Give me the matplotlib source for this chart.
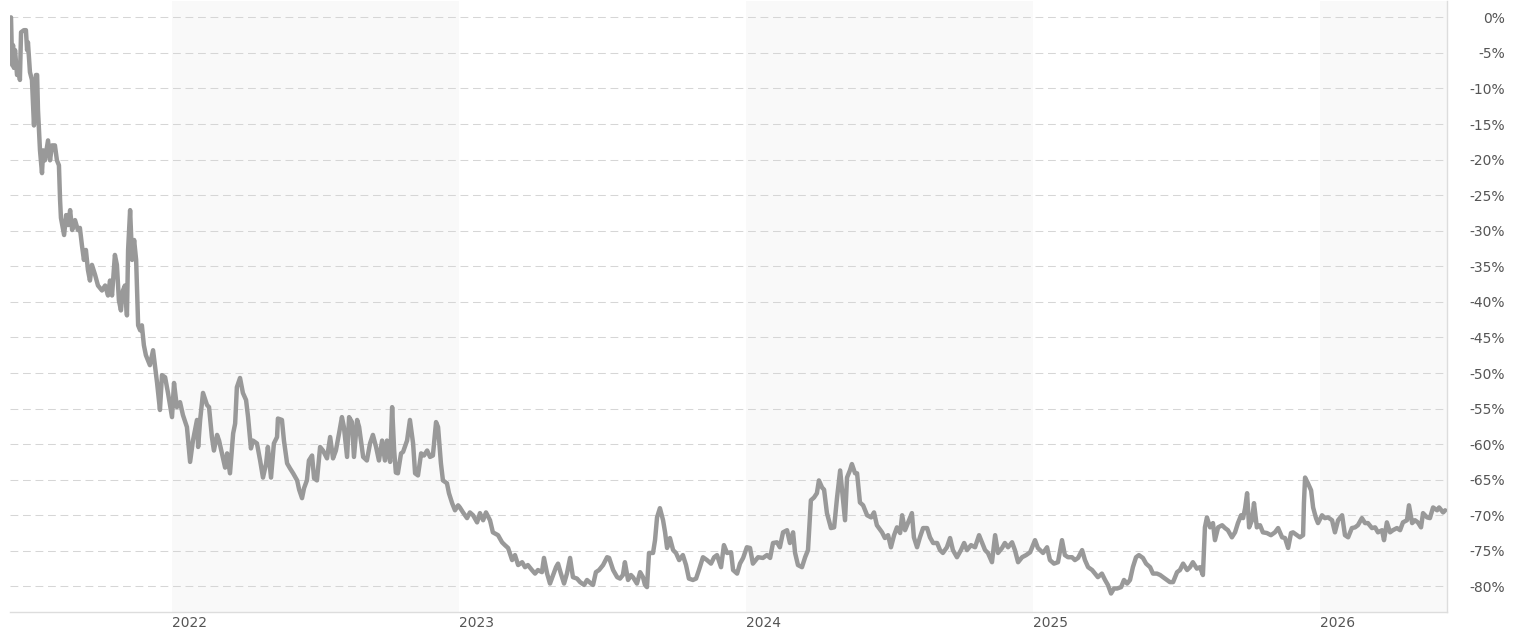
import matplotlib
matplotlib.use('Agg')
import matplotlib.pyplot as plt
from matplotlib.ticker import FuncFormatter

# decimal year of each traced point
YEAR = [
    2021.439, 2021.443, 2021.446, 2021.449, 2021.453, 2021.460, 2021.467, 2021.470,
    2021.474, 2021.484, 2021.491, 2021.495, 2021.498, 2021.505, 2021.512, 2021.519,
    2021.523, 2021.526, 2021.530, 2021.533, 2021.540, 2021.547, 2021.551, 2021.557,
    2021.568, 2021.575, 2021.582, 2021.592, 2021.599, 2021.606, 2021.610, 2021.613,
    2021.624, 2021.631, 2021.638, 2021.645, 2021.652, 2021.662, 2021.672, 2021.679,
    2021.686, 2021.693, 2021.700, 2021.707, 2021.714, 2021.721, 2021.732, 2021.742,
    2021.756, 2021.767, 2021.777, 2021.784, 2021.791, 2021.801, 2021.808, 2021.815,
    2021.822, 2021.829, 2021.836, 2021.843, 2021.847, 2021.854, 2021.861, 2021.868,
    2021.875, 2021.882, 2021.889, 2021.895, 2021.902, 2021.909, 2021.923, 2021.934,
    2021.948, 2021.958, 2021.965, 2021.976, 2021.986, 2022.000, 2022.007, 2022.017,
    2022.028, 2022.038, 2022.052, 2022.063, 2022.073, 2022.087, 2022.091, 2022.098,
    2022.108, 2022.122, 2022.129, 2022.139, 2022.146, 2022.157, 2022.164, 2022.174,
    2022.185, 2022.192, 2022.202, 2022.213, 2022.220, 2022.226, 2022.237, 2022.247,
    2022.258, 2022.265, 2022.275, 2022.282, 2022.296, 2022.307, 2022.317, 2022.328,
    2022.334, 2022.345, 2022.355, 2022.366, 2022.369, 2022.383, 2022.390, 2022.401,
    2022.411, 2022.422, 2022.436, 2022.443, 2022.453, 2022.460, 2022.470, 2022.477,
    2022.488, 2022.495, 2022.505, 2022.516, 2022.526, 2022.540, 2022.551, 2022.561,
    2022.571, 2022.582, 2022.592, 2022.599, 2022.610, 2022.617, 2022.627, 2022.634,
    2022.645, 2022.652, 2022.666, 2022.679, 2022.690, 2022.700, 2022.711, 2022.721,
    2022.732, 2022.742, 2022.749, 2022.760, 2022.767, 2022.774, 2022.780, 2022.787,
    2022.798, 2022.805, 2022.819, 2022.829, 2022.840, 2022.847, 2022.857, 2022.868,
    2022.878, 2022.889, 2022.899, 2022.909, 2022.920, 2022.927, 2022.937, 2022.944,
    2022.958, 2022.965, 2022.976, 2022.986, 2022.997, 2023.003, 2023.014, 2023.028,
    2023.038, 2023.049, 2023.063, 2023.073, 2023.084, 2023.094, 2023.108, 2023.118,
    2023.136, 2023.150, 2023.160, 2023.171, 2023.185, 2023.195, 2023.206, 2023.220,
    2023.230, 2023.240, 2023.254, 2023.265, 2023.275, 2023.289, 2023.296, 2023.307,
    2023.317, 2023.328, 2023.338, 2023.345, 2023.355, 2023.366, 2023.376, 2023.387,
    2023.397, 2023.411, 2023.422, 2023.436, 2023.446, 2023.460, 2023.467, 2023.477,
    2023.488, 2023.502, 2023.516, 2023.523, 2023.537, 2023.551, 2023.561, 2023.571,
    2023.578, 2023.589, 2023.599, 2023.606, 2023.620, 2023.631, 2023.641, 2023.648,
    2023.655, 2023.662, 2023.676, 2023.683, 2023.690, 2023.700, 2023.711, 2023.718,
    2023.725, 2023.735, 2023.746, 2023.756, 2023.767, 2023.780, 2023.791, 2023.801,
    2023.815, 2023.826, 2023.836, 2023.850, 2023.864, 2023.878, 2023.889, 2023.899,
    2023.913, 2023.923, 2023.934, 2023.948, 2023.955, 2023.969, 2023.979, 2023.990,
    2024.003, 2024.014, 2024.024, 2024.042, 2024.059, 2024.073, 2024.084, 2024.094,
    2024.108, 2024.118, 2024.129, 2024.143, 2024.153, 2024.164, 2024.171, 2024.181,
    2024.195, 2024.206, 2024.216, 2024.226, 2024.237, 2024.247, 2024.254, 2024.265,
    2024.272, 2024.282, 2024.296, 2024.307, 2024.317, 2024.328, 2024.338, 2024.345,
    2024.352, 2024.362, 2024.369, 2024.380, 2024.387, 2024.397, 2024.408, 2024.422,
    2024.436, 2024.446, 2024.456, 2024.474, 2024.484, 2024.495, 2024.505, 2024.516,
    2024.526, 2024.537, 2024.544, 2024.554, 2024.564, 2024.578, 2024.585, 2024.596,
    2024.606, 2024.617, 2024.631, 2024.641, 2024.652, 2024.666, 2024.676, 2024.686,
    2024.700, 2024.711, 2024.721, 2024.735, 2024.749, 2024.760, 2024.770, 2024.784,
    2024.798, 2024.812, 2024.822, 2024.833, 2024.843, 2024.857, 2024.868, 2024.878,
    2024.892, 2024.902, 2024.913, 2024.927, 2024.937, 2024.948, 2024.962, 2024.976,
    2024.990, 2025.007, 2025.017, 2025.035, 2025.049, 2025.059, 2025.073, 2025.087,
    2025.101, 2025.111, 2025.122, 2025.136, 2025.146, 2025.157, 2025.171, 2025.181,
    2025.192, 2025.206, 2025.216, 2025.226, 2025.240, 2025.251, 2025.261, 2025.272,
    2025.282, 2025.293, 2025.307, 2025.317, 2025.328, 2025.338, 2025.348, 2025.359,
    2025.369, 2025.383, 2025.394, 2025.408, 2025.418, 2025.432, 2025.443, 2025.453,
    2025.467, 2025.477, 2025.488, 2025.502, 2025.512, 2025.523, 2025.537, 2025.547,
    2025.557, 2025.571, 2025.582, 2025.592, 2025.599, 2025.606, 2025.617, 2025.627,
    2025.634, 2025.645, 2025.659, 2025.669, 2025.679, 2025.693, 2025.704, 2025.714,
    2025.725, 2025.732, 2025.739, 2025.746, 2025.753, 2025.763, 2025.770, 2025.780,
    2025.791, 2025.801, 2025.815, 2025.829, 2025.843, 2025.854, 2025.868, 2025.878,
    2025.889, 2025.899, 2025.906, 2025.920, 2025.930, 2025.941, 2025.944, 2025.948,
    2025.958, 2025.969, 2025.976, 2025.986, 2025.993, 2026.007, 2026.017, 2026.028,
    2026.042, 2026.052, 2026.063, 2026.077, 2026.087, 2026.098, 2026.111, 2026.122,
    2026.132, 2026.146, 2026.157, 2026.167, 2026.181, 2026.192, 2026.202, 2026.216,
    2026.223, 2026.233, 2026.244, 2026.254, 2026.268, 2026.279, 2026.289, 2026.303,
    2026.310, 2026.321, 2026.331, 2026.341, 2026.352, 2026.359, 2026.373, 2026.383,
    2026.394, 2026.408, 2026.415, 2026.429, 2026.436,
]

# change since start, in percent
CHANGE_PCT = [
    0.0, -6.7, -3.9, -7.1, -4.6, -8.1, -7.4, -8.8,
    -2.1, -1.8, -1.8, -4.6, -3.5, -7.7, -8.8, -15.2,
    -11.6, -8.1, -8.1, -13.0, -18.7, -21.9, -18.7, -20.1,
    -17.3, -20.1, -18.0, -18.0, -20.1, -20.8, -25.7, -28.2,
    -30.6, -27.8, -29.2, -27.1, -29.9, -28.5, -29.9, -29.6,
    -32.0, -34.1, -32.7, -35.5, -37.0, -34.8, -36.2, -37.7,
    -38.4, -37.7, -39.1, -37.0, -39.1, -33.4, -34.8, -39.8,
    -41.2, -38.4, -37.7, -41.9, -32.7, -27.1, -34.1, -31.3,
    -34.1, -43.3, -44.0, -43.3, -46.1, -47.5, -48.9, -46.8,
    -51.4, -55.2, -50.3, -50.6, -52.8, -56.2, -51.4, -54.8,
    -54.1, -55.9, -57.6, -62.5, -59.5, -56.6, -60.4, -56.6,
    -52.8, -54.5, -54.8, -59.0, -60.9, -58.7, -59.5, -61.3,
    -63.3, -61.3, -64.1, -58.5, -57.1, -52.0, -50.7, -52.8,
    -53.8, -56.2, -60.6, -59.5, -59.9, -62.3, -64.7, -62.7,
    -60.4, -64.7, -59.9, -59.0, -56.4, -56.6, -59.5, -62.7,
    -63.4, -64.1, -65.1, -66.4, -67.6, -66.2, -65.1, -62.3,
    -61.6, -64.8, -65.1, -60.4, -60.9, -62.0, -59.0, -62.0,
    -60.9, -58.5, -56.2, -57.6, -61.8, -56.2, -56.9, -61.8,
    -56.6, -57.6, -61.8, -62.3, -59.9, -58.7, -60.4, -62.3,
    -59.5, -62.3, -59.5, -62.5, -54.8, -60.9, -64.0, -64.1,
    -61.3, -61.1, -59.5, -56.6, -59.9, -64.1, -64.4, -61.3,
    -61.6, -60.9, -61.8, -61.6, -56.9, -57.6, -62.7, -65.1,
    -65.5, -66.9, -68.3, -69.3, -68.6, -68.9, -69.6, -70.4,
    -69.6, -70.0, -71.0, -69.7, -70.7, -69.6, -70.7, -72.4,
    -72.8, -73.8, -74.2, -74.6, -76.3, -75.6, -77.0, -76.6,
    -77.3, -77.0, -77.7, -78.2, -77.7, -78.0, -76.0, -78.2,
    -79.6, -78.4, -77.3, -76.8, -78.2, -79.6, -78.2, -76.0,
    -78.7, -78.9, -79.4, -79.8, -79.1, -79.6, -79.8, -78.0,
    -77.7, -77.0, -75.9, -76.0, -77.7, -78.7, -78.9, -78.4,
    -76.6, -79.1, -78.4, -78.7, -79.6, -78.0, -78.7, -79.8,
    -80.1, -75.3, -75.3, -73.5, -70.3, -69.0, -70.7, -72.4,
    -74.6, -73.2, -74.9, -75.3, -76.3, -75.6, -77.0, -78.9,
    -79.1, -78.9, -77.7, -75.9, -76.3, -76.8, -75.9, -75.6,
    -77.3, -74.2, -75.3, -75.2, -77.7, -78.2, -76.8, -76.0,
    -74.5, -74.6, -76.8, -75.9, -76.0, -75.6, -76.0, -73.9,
    -73.8, -74.5, -72.4, -72.1, -73.9, -72.4, -75.3, -77.0,
    -77.3, -75.9, -74.9, -67.9, -67.5, -66.9, -65.1, -66.1,
    -66.4, -69.7, -71.8, -71.7, -67.6, -63.7, -67.9, -70.7,
    -64.7, -63.7, -62.8, -64.1, -64.1, -68.2, -68.6, -70.0,
    -70.3, -69.6, -71.4, -72.4, -73.2, -72.8, -74.5, -72.8,
    -71.7, -72.5, -70.0, -72.1, -71.1, -69.7, -73.1, -74.5,
    -73.1, -71.8, -71.8, -73.1, -73.9, -73.9, -74.9, -75.3,
    -74.5, -73.2, -74.9, -75.9, -74.9, -73.9, -74.9, -74.2,
    -74.5, -72.8, -73.8, -74.9, -75.3, -76.6, -72.8, -75.3,
    -74.6, -73.9, -74.5, -73.8, -74.9, -76.6, -75.9, -75.6,
    -75.2, -73.5, -74.6, -75.3, -74.5, -76.3, -76.8, -76.6,
    -73.5, -75.6, -75.9, -75.9, -76.3, -76.0, -74.9, -76.3,
    -77.3, -77.7, -78.2, -78.7, -78.2, -79.1, -79.8, -81.0,
    -80.3, -80.3, -80.1, -79.1, -79.6, -79.1, -77.3, -75.9,
    -75.6, -76.0, -76.8, -77.3, -78.2, -78.2, -78.4, -78.7,
    -79.1, -79.4, -79.4, -78.0, -77.7, -76.8, -77.7, -77.3,
    -76.6, -77.5, -77.3, -78.4, -71.7, -70.3, -71.7, -71.1,
    -73.5, -71.7, -71.4, -71.8, -72.1, -73.1, -72.4, -71.1,
    -70.0, -70.4, -69.0, -66.9, -71.7, -70.7, -68.3, -71.7,
    -71.4, -72.4, -72.5, -72.8, -72.4, -71.8, -73.1, -73.2,
    -74.6, -72.5, -72.4, -72.8, -73.1, -72.8, -68.3, -64.7,
    -65.5, -66.5, -68.9, -70.4, -71.1, -70.0, -70.4, -70.3,
    -70.7, -72.4, -70.7, -70.0, -72.8, -73.1, -71.8, -71.7,
    -71.4, -70.4, -71.1, -71.1, -71.8, -71.7, -72.4, -72.1,
    -73.5, -71.0, -72.4, -72.1, -71.8, -72.1, -71.0, -70.7,
    -68.6, -71.1, -70.7, -71.0, -71.7, -69.7, -70.3, -70.4,
    -68.9, -69.3, -68.9, -69.6, -69.3,
]

TICK_YEARS = [2022, 2023, 2024, 2025, 2026]
BAND_YEARS = [2022, 2024, 2026]
PCT_TICKS = list(range(0, -85, -5))

X_RANGE = (2021.4355, 2026.4425)
Y_RANGE = (-83.6, 2.3)

fig = plt.figure(figsize=(15.23, 6.34), dpi=100)
ax = fig.add_axes([10 / 1523, 1 - 612 / 634, 1437 / 1523, 611 / 634])

# alternating year shading
for y0 in BAND_YEARS:
    ax.axvspan(y0, min(y0 + 1, X_RANGE[1]), color='#f9f9f9', lw=0, zorder=0)

ax.plot(YEAR, CHANGE_PCT, color='#999999', lw=3.2, solid_joinstyle='round',
        solid_capstyle='round', zorder=3)

ax.set_xlim(*X_RANGE)
ax.set_ylim(*Y_RANGE)

ax.set_axisbelow(True)
ax.set_yticks(PCT_TICKS)
ax.yaxis.grid(True, color='#d6d6d6', lw=0.75, linestyle=(0, (7.5, 4.5)))
ax.yaxis.set_major_formatter(FuncFormatter(lambda v, _: f'{int(v)}%'))
ax.yaxis.tick_right()
ax.tick_params(axis='y', length=0, pad=42, labelsize=10, labelcolor='#555555')
for t in ax.get_yticklabels():
    t.set_horizontalalignment('right')

ax.set_xticks(TICK_YEARS)
ax.set_xticklabels([str(y) for y in TICK_YEARS])
ax.tick_params(axis='x', length=0, pad=3, labelsize=10, labelcolor='#555555')
for t in ax.get_xticklabels():
    t.set_horizontalalignment('left')

for side in ('top', 'left'):
    ax.spines[side].set_visible(False)
for side in ('bottom', 'right'):
    ax.spines[side].set_color('#dddddd')
    ax.spines[side].set_linewidth(1)

fig.savefig('out.png', dpi=100)
